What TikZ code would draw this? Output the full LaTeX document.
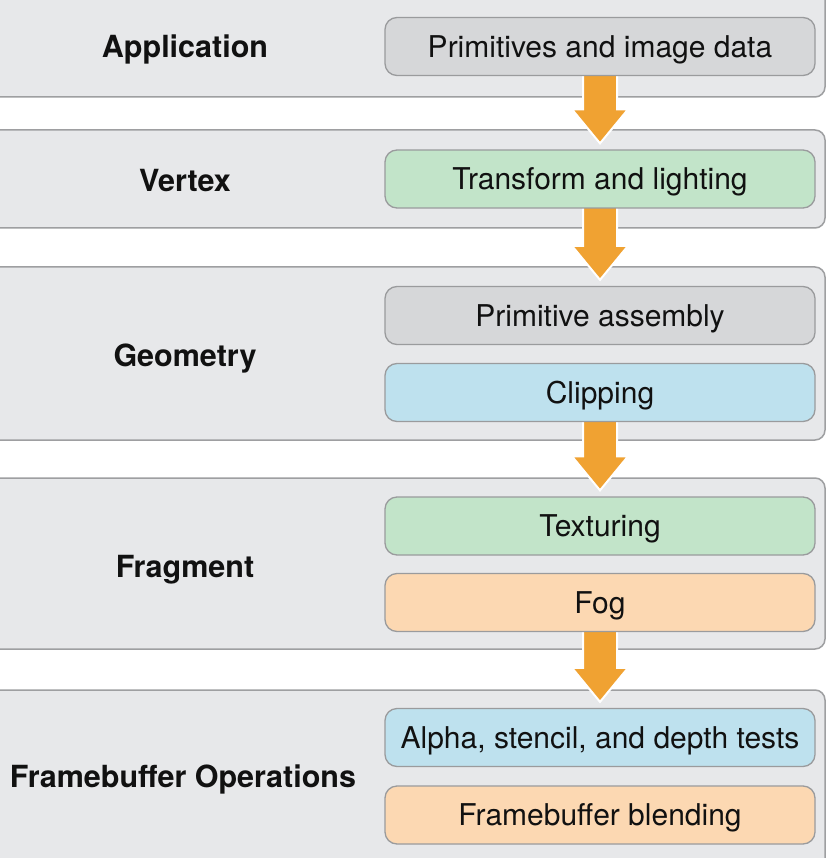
\documentclass[tikz,border=0pt]{standalone}
\usepackage{fontspec}
\setmainfont{TeX Gyre Heros}
\usetikzlibrary{calc}
\definecolor{panelfill}{HTML}{E7E8EA}
\definecolor{panelline}{HTML}{9E9FA1}
\definecolor{boxline}{HTML}{9A9B9D}
\definecolor{graybox}{HTML}{D6D7D9}
\definecolor{greenbox}{HTML}{C2E4C9}
\definecolor{bluebox}{HTML}{BEE1EE}
\definecolor{peachbox}{HTML}{FCD8B2}
\definecolor{arroworange}{HTML}{F0A232}
\definecolor{txt}{HTML}{111111}
\tikzset{
  panel/.style={draw=panelline, fill=panelfill, line width=1.5pt, rounded corners=10pt},
  stagebox/.style={draw=boxline, line width=1.3pt, rounded corners=12pt, minimum width=430pt, minimum height=58pt, inner sep=0pt, text=txt, font=\fontsize{30}{32}\selectfont, text height=21.6pt, text depth=0pt},
  stagelabel/.style={font=\fontsize{30.5}{32}\selectfont\bfseries, text=txt, inner sep=0pt, text height=22pt, text depth=0pt},
  pipe/.style={fill=arroworange, draw=white, line width=2pt, line join=miter},
}
\newcommand{\pipearrow}[3]{%
  \path (#1.south) coordinate (s#3) ($(#2.north)+(0,-6)$) coordinate (t#3);
  \draw[pipe] ($(s#3)+(-17,-3)$) -- ($(t#3)+(-17,-34)$) -- ($(t#3)+(-28,-34)$) -- (t#3)
    -- ($(t#3)+(28,-34)$) -- ($(t#3)+(17,-34)$) -- ($(s#3)+(17,-3)$) -- cycle;
}
\begin{document}
\begin{tikzpicture}[x=1pt, y=-1pt]
\fill[white] (0,0) rectangle (826,858);
\useasboundingbox (0,0) rectangle (826,858);
% panels
\draw[panel] (-20,-20) rectangle (825,97);
\draw[panel] (-20,130) rectangle (825,228);
\draw[panel] (-20,267) rectangle (825,440);
\draw[panel] (-20,478) rectangle (825,649);
\draw[panel] (-20,690) rectangle (825,890);
% labels
\node[stagelabel] (lapp) at (185,46.5) {Application};
\node[stagelabel] (lvert) at (185,181) {Vertex};
\node[stagelabel] (lgeo) at (185,355) {Geometry};
\node[stagelabel] (lfrag) at (185,566) {Fragment};
\node[stagelabel] (lfb) at (183,776) {Framebuffer Operations};
% boxes (coordinates for arrows)
\path (600,46.5) node[stagebox, draw=none] (b1) {}
      (600,179) node[stagebox, draw=none] (b2) {}
      (600,315.5) node[stagebox, draw=none] (b3) {}
      (600,392.5) node[stagebox, draw=none] (b4) {}
      (600,526) node[stagebox, draw=none] (b5) {}
      (600,602.5) node[stagebox, draw=none] (b6) {}
      (600,737.5) node[stagebox, draw=none] (b7) {}
      (600,815) node[stagebox, draw=none] (b8) {};
% arrows
\pipearrow{b1}{b2}{a}
\pipearrow{b2}{b3}{b}
\pipearrow{b4}{b5}{c}
\pipearrow{b6}{b7}{d}
% boxes
\node[stagebox, fill=graybox] (n1) at (b1) {Primitives and image data};
\node[stagebox, fill=greenbox] (n2) at (b2) {Transform and lighting};
\node[stagebox, fill=graybox] (n3) at (b3) {Primitive assembly};
\node[stagebox, fill=bluebox] (n4) at (b4) {Clipping};
\node[stagebox, fill=greenbox] (n5) at (b5) {Texturing};
\node[stagebox, fill=peachbox] (n6) at (b6) {Fog};
\node[stagebox, fill=bluebox] (n7) at (b7) {Alpha, stencil, and depth tests};
\node[stagebox, fill=peachbox] (n8) at (b8) {Framebuffer blending};
\end{tikzpicture}
\end{document}
